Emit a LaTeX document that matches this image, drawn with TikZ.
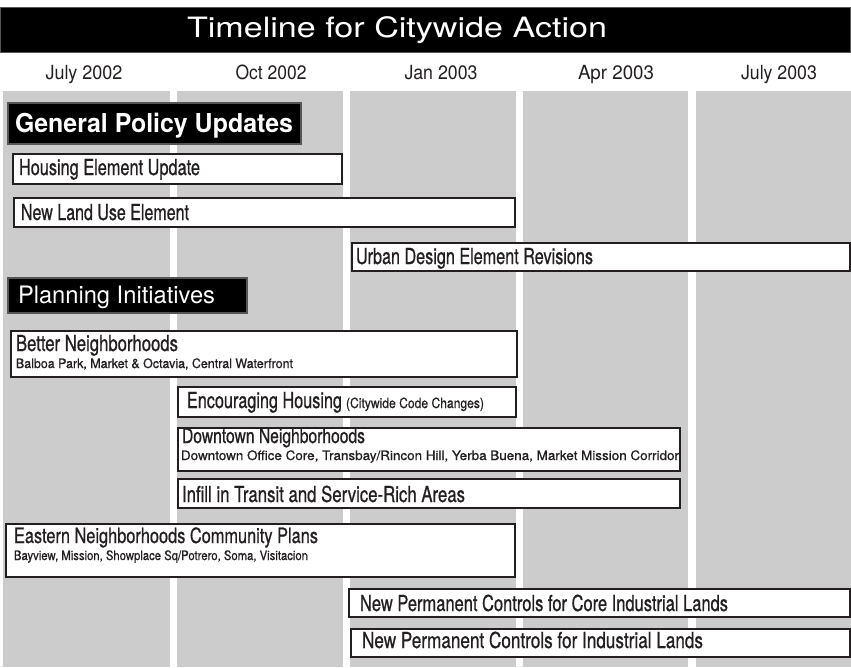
\documentclass[tikz,border=0pt]{standalone}
\usepackage{fontspec}
\setmainfont{TeX Gyre Heros}
\newfontfamily\boxfont[FakeBold=0.8]{TeX Gyre Heros}
\usepackage{graphicx}
\definecolor{ink}{HTML}{231F20}
\definecolor{colgray}{HTML}{CCCCCC}
\definecolor{rimgray}{HTML}{555555}
\newsavebox\fitbox
\newcommand\fitw[2]{\sbox\fitbox{#2}\pgfmathsetmacro\fitr{#1/\wd\fitbox}\scalebox{\fitr}[1]{\usebox\fitbox}}
\tikzset{
  colfill/.style={fill=colgray, draw=none},
  bar/.style={draw=ink, line width=2.2pt, fill=white, inner sep=0pt, outer sep=0pt},
  blackbar/.style={draw=rimgray, line width=1.4pt, fill=black, inner sep=0pt, outer sep=0pt},
  lbl/.style={inner sep=0pt, outer sep=0pt, anchor=base west, text=ink},
  wlbl/.style={inner sep=0pt, outer sep=0pt, anchor=base west, text=white},
  datelbl/.style={inner sep=0pt, outer sep=0pt, anchor=base, text=ink, font=\fontsize{19.5}{21}\selectfont},
  main/.style={font=\boxfont\fontsize{22}{24}\selectfont},
  sub/.style={font=\boxfont\fontsize{13}{14}\selectfont},
}
\newcommand\bx[6][bar]{\node[#1, minimum width={#5-#3-2.2}, minimum height={#6-#4-2.2}] (#2) at ({(#3+#5)/2},{(#4+#6)/2}) {};}
\begin{document}
\begin{tikzpicture}[x=1pt,y=-1pt]
\useasboundingbox (0,0) rectangle (851,667);
% columns
\fill[colfill] (3,91) rectangle (170,667);
\fill[colfill] (177,91) rectangle (343,667);
\fill[colfill] (350,91) rectangle (516,667);
\fill[colfill] (523,91) rectangle (688,667);
\fill[colfill] (696,91) rectangle (851,667);
% title bar
\node[blackbar, minimum width=851, minimum height=45] (tbar) at (425.5,30) {};
\node[wlbl, font=\fontsize{28}{30}\selectfont] (title) at (187,37) {\fitw{420}{Timeline for Citywide Action}};
% dates
\node[datelbl] (d1) at (84,79) {\fitw{77}{July 2002}};
\node[datelbl] (d2) at (271,79) {\fitw{71}{Oct 2002}};
\node[datelbl] (d3) at (441,79) {\fitw{73}{Jan 2003}};
\node[datelbl] (d4) at (616,79) {\fitw{76}{Apr 2003}};
\node[datelbl] (d5) at (779,79) {\fitw{76}{July 2003}};
% General Policy Updates
\bx[blackbar]{gpu}{7}{102}{302}{145}
\node[wlbl, font=\fontsize{26}{28}\selectfont\bfseries] (gput) at (15,132) {\fitw{278}{General Policy Updates}};
\bx{hou}{12}{153}{343}{185}
\node[lbl, main] (hout) at (19,175) {\fitw{181}{Housing Element Update}};
\bx{nlu}{13}{197}{516}{228}
\node[lbl, main] (nlut) at (21,220) {\fitw{168}{New Land Use Element}};
\bx{urb}{351}{242}{851}{272}
\node[lbl, main] (urbt) at (356,264) {\fitw{237}{Urban Design Element Revisions}};
% Planning Initiatives
\bx[blackbar]{pin}{7}{277}{248}{314}
\node[wlbl, font=\fontsize{24}{26}\selectfont] (pint) at (18,303) {\fitw{197}{Planning Initiatives}};
\bx{bet}{10}{330}{518}{378}
\node[lbl, main] (bett) at (16,351) {\fitw{162}{Better Neighborhoods}};
\node[lbl, sub] (bets) at (16,368) {\fitw{277}{Balboa Park, Market \& Octavia, Central Waterfront}};
\bx{enc}{177}{386}{517}{418}
\node[lbl, main] (enct) at (187,408) {\fitw{155}{Encouraging Housing}};
\node[lbl, font=\boxfont\fontsize{14}{15}\selectfont] (encs) at (346,408) {\fitw{138}{(Citywide Code Changes)}};
\bx{dtn}{177}{427}{681}{472}
\node[lbl, font=\boxfont\fontsize{20.5}{22}\selectfont] (dtnt) at (182,443) {\fitw{183}{Downtown Neighborhoods}};
\node[lbl, sub] (dtns) at (181,460) {\fitw{498}{Downtown Office Core, Transbay/Rincon Hill, Yerba Buena, Market Mission Corridor}};
\bx{inf}{177}{478}{681}{509}
\node[lbl, main] (inft) at (182,502) {\fitw{283}{Infill in Transit and Service-Rich Areas}};
\bx{eas}{5}{523}{516}{578}
\node[lbl, font=\boxfont\fontsize{21}{23}\selectfont] (east) at (14,543) {\fitw{304}{Eastern Neighborhoods Community Plans}};
\node[lbl, sub] (eass) at (14,560) {\fitw{294}{Bayview, Mission, Showplace Sq/Potrero, Soma, Visitacion}};
\bx{cor}{348}{588}{851}{618}
\node[lbl, main] (cort) at (360,611) {\fitw{368}{New Permanent Controls for Core Industrial Lands}};
\bx{ind}{350}{628}{851}{658}
\node[lbl, main] (indt) at (362,648) {\fitw{341}{New Permanent Controls for Industrial Lands}};
\end{tikzpicture}
\end{document}
